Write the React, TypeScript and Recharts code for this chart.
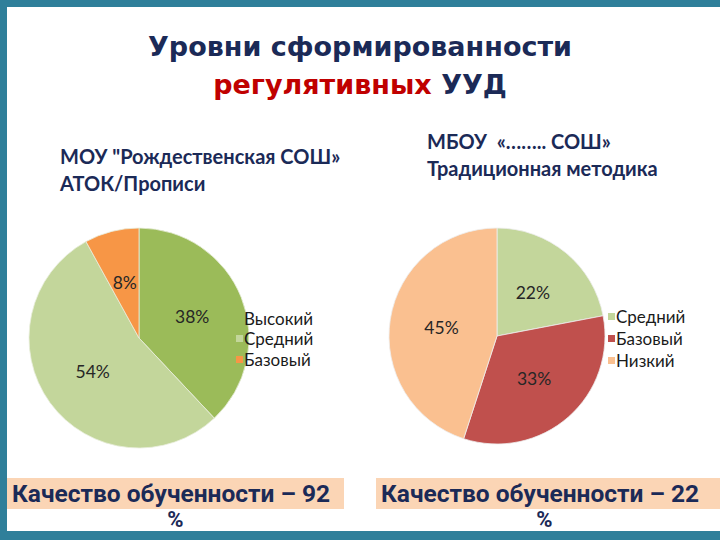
import React from "react";
import { PieChart, Pie, Cell } from "recharts";

const leftNames = ["Высокий", "Средний", "Базовый"];
const leftValues = [38, 54, 8];
const leftColors = ["#9bbb59", "#c3d69b", "#f79646"];

const rightNames = ["Средний", "Базовый", "Низкий"];
const rightValues = [22, 33, 45];
const rightColors = ["#c3d69b", "#c0504d", "#fac090"];

const titleLine1 = "Уровни сформированности";
const titleRed = "регулятивных";
const titleRest = "УУД";
const leftTitle = ["МОУ \"Рождественская СОШ»", "АТОК/Прописи"];
const rightTitle = ["МБОУ  «…….. СОШ»", "Традиционная методика"];
const leftQuality = "Качество обученности – 92";
const rightQuality = "Качество обученности – 22";

const NAVY = "#1b2a57";
const TEAL = "#2f7f9a";
const PEACH = "#fbd5b5";
const RAD = Math.PI / 180;

const leftData = leftNames.map((name, i) => ({ name, value: leftValues[i] }));
const rightData = rightNames.map((name, i) => ({ name, value: rightValues[i] }));

const renderLabel = (props: any) => {
  const { cx, cy, midAngle, outerRadius, value } = props;
  const r = outerRadius * 0.52;
  const x = cx + r * Math.cos(-midAngle * RAD);
  const y = cy + r * Math.sin(-midAngle * RAD);
  return (
    <text
      x={x}
      y={y}
      textAnchor="middle"
      dominantBaseline="central"
      fontFamily="Lato, 'Open Sans', sans-serif"
      fontSize={17.5}
      fill="#262626"
    >
      {value}%
    </text>
  );
};

const Legend = ({ names, colors, left, top, gap }: any) => (
  <div style={{ position: "absolute", left, top }}>
    {names.map((n: string, i: number) => (
      <div
        key={n}
        style={{
          display: "flex",
          alignItems: "center",
          height: gap,
          fontFamily: "Lato, 'Open Sans', sans-serif",
          fontSize: 17,
          color: "#1a1a1a",
        }}
      >
        <div style={{ width: 7, height: 7, background: colors[i], marginRight: 1 }} />
        <span>{n}</span>
      </div>
    ))}
  </div>
);

const Quality = ({ text, left, width }: any) => (
  <>
    <div
      style={{
        position: "absolute",
        left,
        top: 478,
        width,
        height: 31,
        background: PEACH,
      }}
    />
    <div
      style={{
        position: "absolute",
        left: left + 5,
        top: 478,
        height: 31,
        lineHeight: "31px",
        fontFamily: "Roboto, sans-serif",
        fontWeight: 700,
        fontSize: 24.5,
        color: NAVY,
        whiteSpace: "nowrap",
      }}
    >
      {text}
    </div>
    <div
      style={{
        position: "absolute",
        left,
        top: 508,
        width: 337,
        textAlign: "center",
        lineHeight: "24px",
        fontFamily: "Roboto, sans-serif",
        fontWeight: 700,
        fontSize: 22,
        color: NAVY,
      }}
    >
      %
    </div>
  </>
);

export default function App() {
  return (
    <div
      style={{
        position: "absolute",
        left: 0,
        top: 0,
        width: 720,
        height: 540,
        background: "#ffffff",
        overflow: "hidden",
      }}
    >
      {/* frame */}
      <div style={{ position: "absolute", left: 0, top: 0, width: 720, height: 7, background: TEAL }} />
      <div style={{ position: "absolute", left: 0, top: 0, width: 7, height: 540, background: TEAL }} />
      <div style={{ position: "absolute", left: 0, top: 531, width: 720, height: 9, background: TEAL }} />

      {/* main title */}
      <div
        style={{
          position: "absolute",
          left: 0,
          top: 28,
          width: 720,
          textAlign: "center",
          fontFamily: "'DejaVu Sans', sans-serif",
          fontWeight: 700,
          fontSize: 27,
          lineHeight: "38px",
          color: NAVY,
        }}
      >
        <div>{titleLine1}</div>
        <div>
          <span style={{ color: "#c00000" }}>{titleRed}</span> {titleRest}
        </div>
      </div>

      {/* sub titles */}
      <div
        style={{
          position: "absolute",
          left: 60,
          top: 143,
          fontFamily: "Lato, 'Open Sans', sans-serif",
          fontWeight: 700,
          fontSize: 20,
          lineHeight: "27px",
          color: NAVY,
          whiteSpace: "pre",
        }}
      >
        {leftTitle.map((t) => (
          <div key={t}>{t}</div>
        ))}
      </div>
      <div
        style={{
          position: "absolute",
          left: 427,
          top: 128,
          fontFamily: "Lato, 'Open Sans', sans-serif",
          fontWeight: 700,
          fontSize: 20,
          lineHeight: "27px",
          color: NAVY,
          whiteSpace: "pre",
        }}
      >
        {rightTitle.map((t) => (
          <div key={t}>{t}</div>
        ))}
      </div>

      {/* left pie */}
      <div style={{ position: "absolute", left: 0, top: 190 }}>
        <PieChart width={360} height={290} margin={{ top: 0, right: 0, bottom: 0, left: 0 }}>
          <Pie
            data={leftData}
            dataKey="value"
            nameKey="name"
            cx={139}
            cy={148}
            outerRadius={110}
            startAngle={90}
            endAngle={-270}
            stroke="#e8eedc"
            strokeWidth={0.8}
            label={renderLabel}
            labelLine={false}
            isAnimationActive={false}
          >
            {leftData.map((d, i) => (
              <Cell key={d.name} fill={leftColors[i]} />
            ))}
          </Pie>
        </PieChart>
      </div>
      <Legend names={leftNames} colors={leftColors} left={236} top={308} gap={20.5} />

      {/* right pie */}
      <div style={{ position: "absolute", left: 360, top: 190 }}>
        <PieChart width={360} height={290} margin={{ top: 0, right: 0, bottom: 0, left: 0 }}>
          <Pie
            data={rightData}
            dataKey="value"
            nameKey="name"
            cx={137}
            cy={146}
            outerRadius={108}
            startAngle={90}
            endAngle={-270}
            stroke="#ededed"
            strokeWidth={0.8}
            label={renderLabel}
            labelLine={false}
            isAnimationActive={false}
          >
            {rightData.map((d, i) => (
              <Cell key={d.name} fill={rightColors[i]} />
            ))}
          </Pie>
        </PieChart>
      </div>
      <Legend names={rightNames} colors={rightColors} left={608} top={305} gap={22} />

      <Quality text={leftQuality} left={7} width={337} />
      <Quality text={rightQuality} left={376} width={344} />
    </div>
  );
}
